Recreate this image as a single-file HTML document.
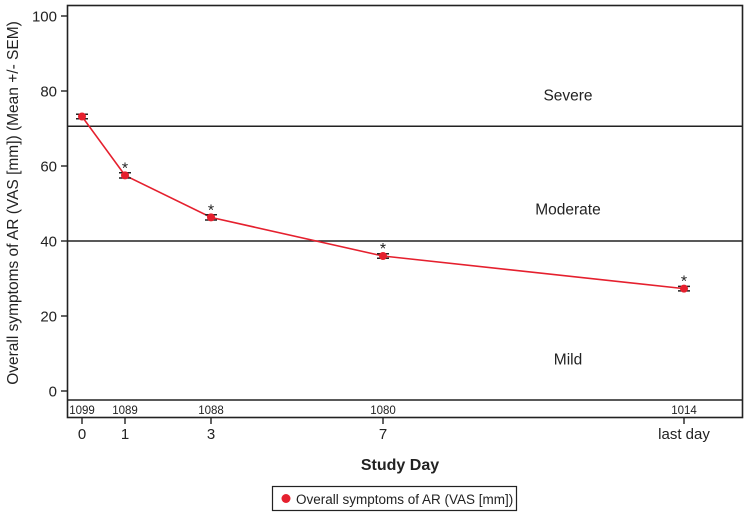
<!DOCTYPE html>
<html><head><meta charset="utf-8"><style>
html,body{margin:0;padding:0;background:#fff;}
svg{display:block;font-family:"Liberation Sans",Arial,sans-serif;}
</style></head><body>
<svg id="chart" width="750" height="515" viewBox="0 0 750 515">
<rect x="67.5" y="5.5" width="675" height="412" fill="none" stroke="#222" stroke-width="1.6"/>
<line x1="67" y1="400" x2="743" y2="400" stroke="#222" stroke-width="1.6"/>
<g id="yaxis"></g>
<g id="bands"></g>
<g id="xaxis"></g>
<g id="series"></g>
<text x="18" y="203" transform="rotate(-90 18 203)" text-anchor="middle" font-size="15.5" fill="#222">Overall symptoms of AR (VAS [mm]) (Mean +/- SEM)</text>
<text x="400" y="470" text-anchor="middle" font-size="16" font-weight="bold" fill="#222">Study Day</text>
<g>
<rect x="272.5" y="486.5" width="244" height="24" fill="#fff" stroke="#222" stroke-width="1.2"/>
<circle cx="286" cy="498.5" r="4.5" fill="#e5202e"/>
<text x="296" y="504" font-size="13.5" fill="#222">Overall symptoms of AR (VAS [mm])</text>
</g>
</svg>
<script>
const days = [0, 1, 3, 7, 14];
const dayLabels = ["0", "1", "3", "7", "last day"];
const means = [73.2, 57.5, 46.3, 36.0, 27.3];
const sems = [0.6, 0.7, 0.7, 0.6, 0.6];
const counts = ["1099", "1089", "1088", "1080", "1014"];
const significant = [false, true, true, true, true];
const yTicks = [0, 20, 40, 60, 80, 100];
const bandLines = [70.6, 40];
const bandLabels = ["Severe", "Moderate", "Mild"];
const bandLabelValues = [79, 48.5, 8.5];

const NS = "http://www.w3.org/2000/svg";
const xs = d => 82 + d * 43;
const ys = v => 391 - v * 3.75;
function mk(tag, attrs, parent, text) {
  const e = document.createElementNS(NS, tag);
  for (const k in attrs) e.setAttribute(k, attrs[k]);
  if (text !== undefined) e.textContent = text;
  parent.appendChild(e);
  return e;
}
const yA = document.getElementById('yaxis');
yTicks.forEach(t => {
  const l = mk('line', {x1: 61, x2: 67, y1: ys(t), y2: ys(t), stroke: '#222', 'stroke-width': 1.4}, yA);
  
  
  const tx = mk('text', {x: 57, y: ys(t) + 5.5, 'text-anchor': 'end', 'font-size': 15, fill: '#222'}, yA, String(t));
  
  
});
const bA = document.getElementById('bands');
bandLines.forEach(v => {
  const l = mk('line', {x1: 67, x2: 743, y1: ys(v), y2: ys(v), stroke: '#222', 'stroke-width': 1.4}, bA);
  
  
});
bandLabels.forEach((s, i) => {
  const t = mk('text', {x: 568, y: ys(bandLabelValues[i]) + 5.5, 'text-anchor': 'middle', 'font-size': 15.5, fill: '#222'}, bA, s);
  
  
});
const xA = document.getElementById('xaxis');
days.forEach((d, i) => {
  const x = xs(d);
  const l = mk('line', {x1: x, x2: x, y1: 418, y2: 424, stroke: '#222', 'stroke-width': 1.4}, xA);
  
  
  const t = mk('text', {x: x, y: 439, 'text-anchor': 'middle', 'font-size': 15, fill: '#222'}, xA, dayLabels[i]);
  
  
  const c = mk('text', {x: x, y: 414, 'text-anchor': 'middle', 'font-size': 11.5, fill: '#222'}, xA, counts[i]);
  
  
});
const sA = document.getElementById('series');
const pts = days.map((d, i) => xs(d) + ',' + ys(means[i])).join(' ');
const pl = mk('polyline', {points: pts, fill: 'none', stroke: '#e5202e', 'stroke-width': 1.6}, sA);


days.forEach((d, i) => {
  const x = xs(d), yt = ys(means[i] + sems[i]), yb = ys(means[i] - sems[i]);
  const e = mk('path', {d: `M${x-6},${yt}H${x+6}M${x},${yt}V${yb}M${x-6},${yb}H${x+6}`, stroke: '#222', 'stroke-width': 1.4, fill: 'none'}, sA);
  
  
  const p = mk('circle', {cx: x, cy: ys(means[i]), r: 4, fill: '#e5202e'}, sA);
  
  
  if (significant[i]) {
    const s = mk('text', {x: x, y: ys(means[i]) - 2, 'text-anchor': 'middle', 'font-size': 16, fill: '#222'}, sA, '*');
    
    
  }
});
</script>
</body></html>
